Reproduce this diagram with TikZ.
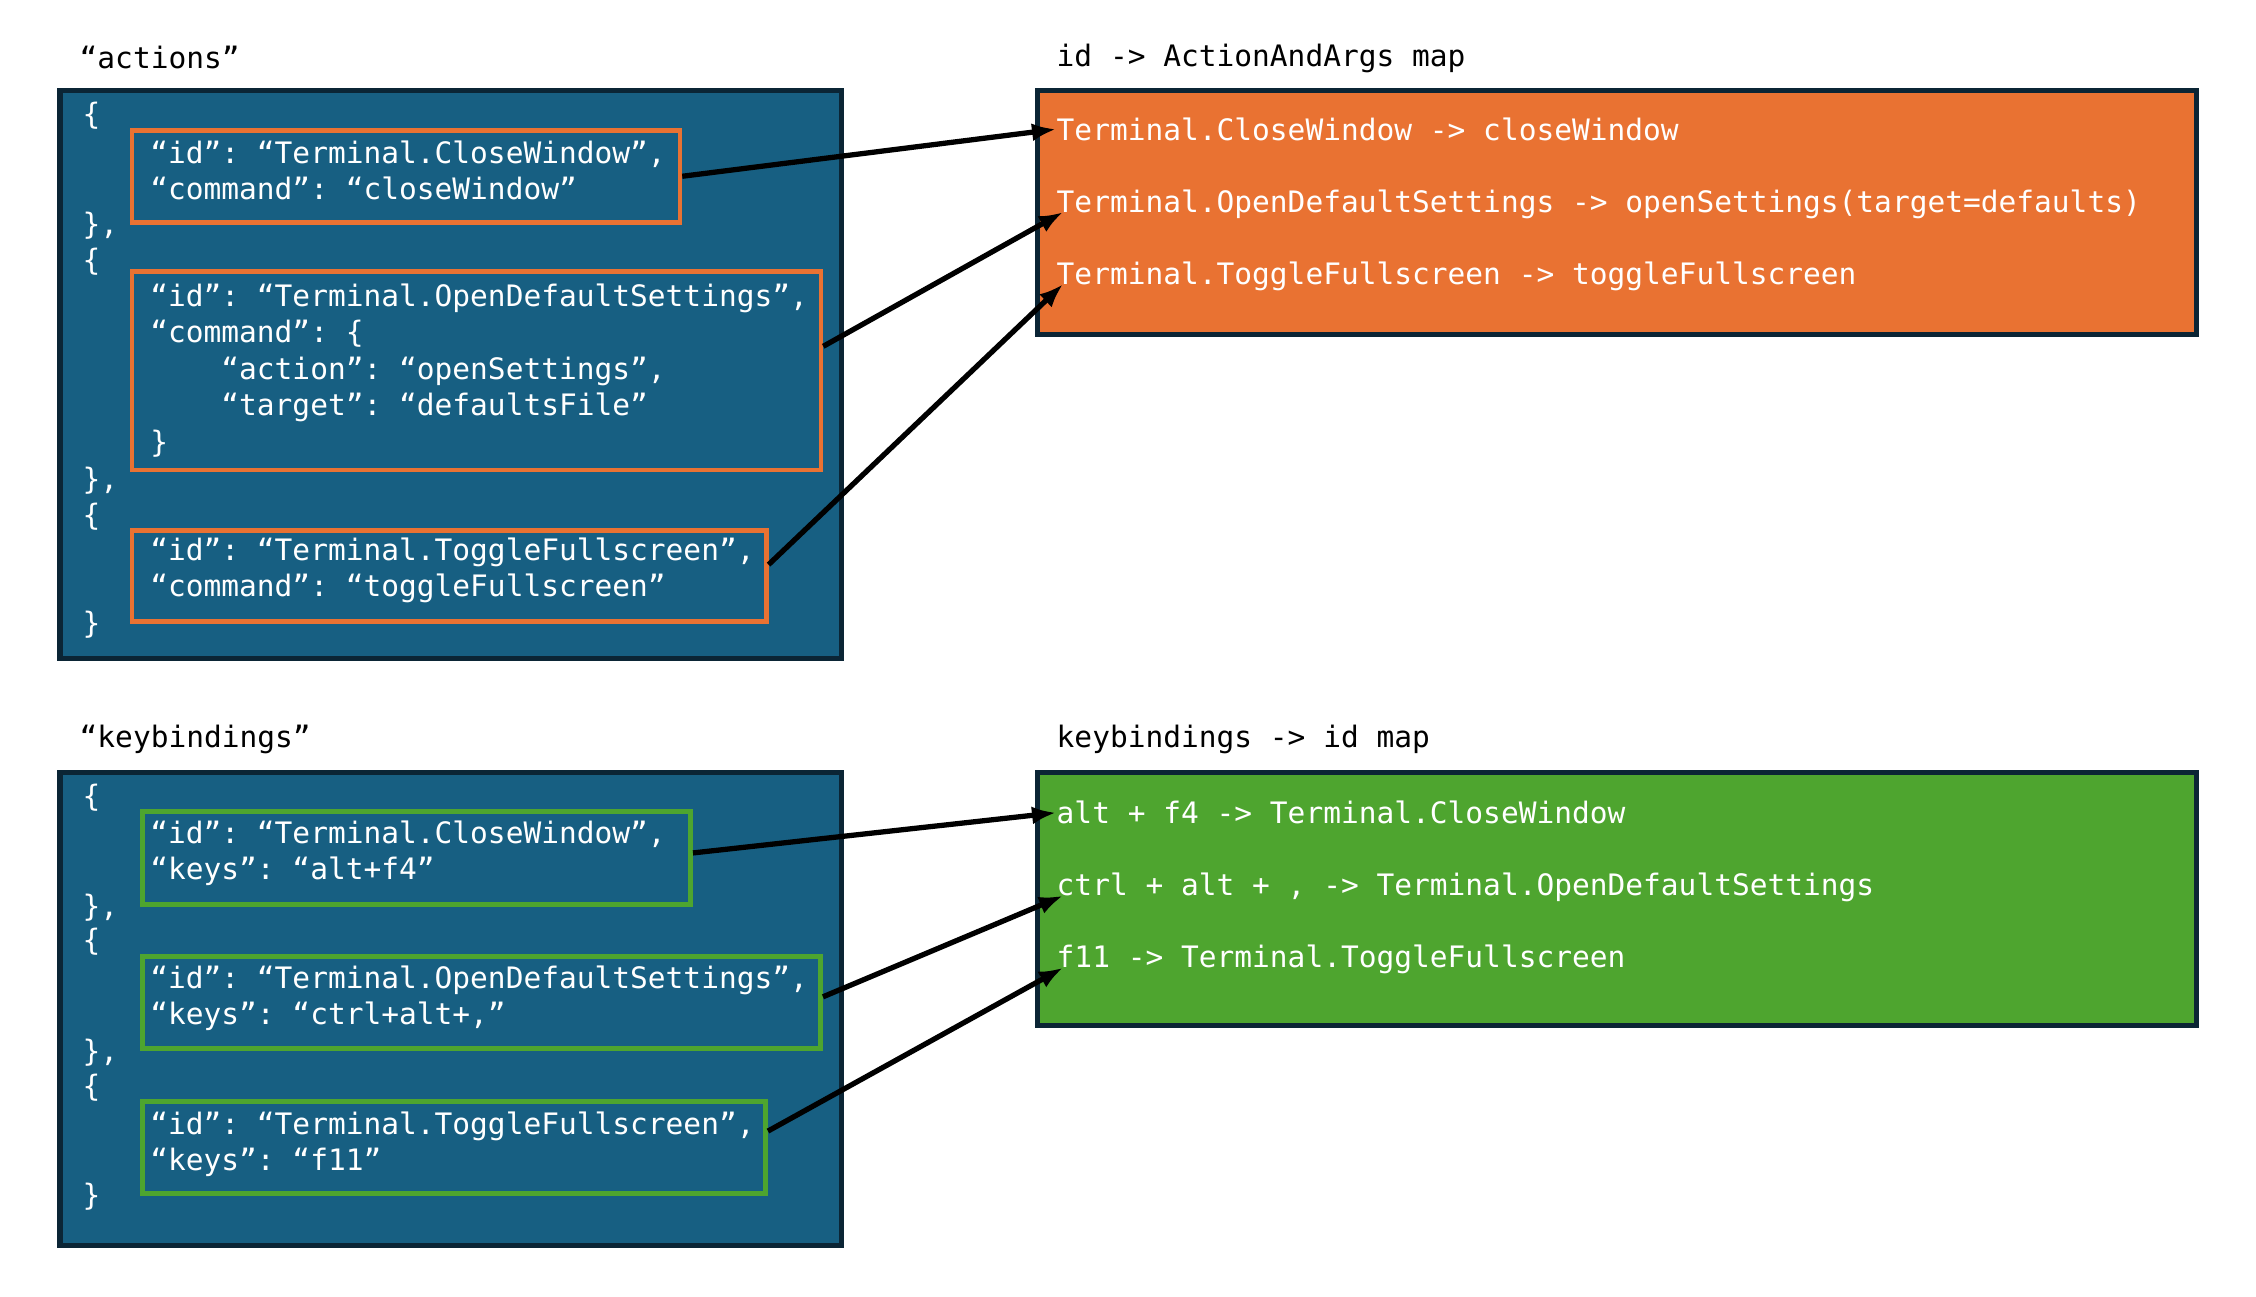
\documentclass[tikz,border=0pt]{standalone}
\usepackage{fontspec}
\setmonofont{DejaVu Sans Mono}
\usepackage{xcolor}
\usepackage{tikz}
\usetikzlibrary{arrows.meta}

\definecolor{panelblue}{HTML}{175F82}
\definecolor{panelnavy}{HTML}{0B2535}
\definecolor{maporange}{HTML}{E97232}
\definecolor{mapgreen}{HTML}{4EA52F}

\newcommand{\codefont}{\ttfamily\fontsize{8.4pt}{10.36pt}\selectfont}

\begin{document}
\begin{tikzpicture}[
    panel/.style={draw=panelnavy, line width=1.5pt, fill=#1, anchor=north west, inner sep=0pt},
    entry/.style={draw=#1, line width=1.3pt, anchor=north west, inner sep=0pt},
    code/.style={anchor=west, inner sep=0pt, align=left, text=white, font=\codefont},
    maprow/.style={anchor=base west, inner sep=0pt, text=white, font=\codefont},
    caption/.style={anchor=west, inner sep=0pt, font=\codefont},
    arr/.style={-{Latex[length=2.4mm,width=1.8mm]}, line width=1.5pt}
]
    \useasboundingbox (0,0) rectangle (22.56,-12.97);

    % actions json
    \node[caption] (actlbl) at (0.79,-0.58) {“actions”};
    \node[panel=panelblue, minimum width=7.815cm, minimum height=5.68cm] (actions) at (0.575,-0.88) {};
    \foreach \y/\t [count=\i] in {1.16/\{, 2.26/{\},}, 2.62/\{, 4.805/{\},}, 5.165/\{, 6.245/\}}
        \node[code] (actbr\i) at (0.82,-\y) {\t};

    \node[entry=maporange, minimum width=5.482cm, minimum height=0.92cm] (ob1) at (1.295,-1.28) {};
    \node[code] (ob1txt) at (1.496,-1.707) {“id”: “Terminal.CloseWindow”,\\“command”: “closeWindow”};

    \node[entry=maporange, minimum width=6.892cm, minimum height=1.986cm] (ob2) at (1.295,-2.69) {};
    \node[code] (ob2txt) at (1.496,-3.704) {“id”: “Terminal.OpenDefaultSettings”,\\“command”: \{\\\phantom{xxxx}“action”: “openSettings”,\\\phantom{xxxx}“target”: “defaultsFile”\\\}};

    \node[entry=maporange, minimum width=6.345cm, minimum height=0.91cm] (ob3) at (1.295,-5.28) {};
    \node[code] (ob3txt) at (1.496,-5.705) {“id”: “Terminal.ToggleFullscreen”,\\“command”: “toggleFullscreen”};

    % id -> ActionAndArgs
    \node[caption] (amaplbl) at (10.56,-0.58) {id -> ActionAndArgs map};
    \node[panel=maporange, minimum width=11.595cm, minimum height=2.44cm] (amap) at (10.345,-0.88) {};
    \node[maprow] (am1) at (10.56,-1.403) {Terminal.CloseWindow -> closeWindow};
    \node[maprow] (am2) at (10.56,-2.122) {Terminal.OpenDefaultSettings -> openSettings(target=defaults)};
    \node[maprow] (am3) at (10.56,-2.842) {Terminal.ToggleFullscreen -> toggleFullscreen};

    \draw[arr] (ob1.east) -- (am1.west);
    \draw[arr] (ob2.4.5) -- ([xshift=0.7mm]am2.base west);
    \draw[arr] (ob3.2.8) -- ([xshift=0.7mm]am3.base west);

    % keybindings json
    \node[caption] (keylbl) at (0.79,-7.395) {“keybindings”};
    \node[panel=panelblue, minimum width=7.815cm, minimum height=4.73cm] (keys) at (0.575,-7.70) {};
    \foreach \y/\t [count=\i] in {7.98/\{, 9.08/{\},}, 9.42/\{, 10.525/{\},}, 10.88/\{, 11.97/\}}
        \node[code] (keybr\i) at (0.82,-\y) {\t};

    \node[entry=mapgreen, minimum width=5.48cm, minimum height=0.93cm] (gb1) at (1.404,-8.09) {};
    \node[code] (gb1txt) at (1.496,-8.53) {“id”: “Terminal.CloseWindow”,\\“keys”: “alt+f4”};

    \node[entry=mapgreen, minimum width=6.78cm, minimum height=0.92cm] (gb2) at (1.404,-9.545) {};
    \node[code] (gb2txt) at (1.496,-9.985) {“id”: “Terminal.OpenDefaultSettings”,\\“keys”: “ctrl+alt+,”};

    \node[entry=mapgreen, minimum width=6.23cm, minimum height=0.925cm] (gb3) at (1.404,-10.99) {};
    \node[code] (gb3txt) at (1.496,-11.44) {“id”: “Terminal.ToggleFullscreen”,\\“keys”: “f11”};

    % keybindings -> id
    \node[caption] (gmaplbl) at (10.56,-7.395) {keybindings -> id map};
    \node[panel=mapgreen, minimum width=11.595cm, minimum height=2.53cm] (gmap) at (10.345,-7.70) {};
    \node[maprow] (gm1) at (10.56,-8.238) {alt + f4 -> Terminal.CloseWindow};
    \node[maprow] (gm2) at (10.56,-8.958) {ctrl + alt + , -> Terminal.OpenDefaultSettings};
    \node[maprow] (gm3) at (10.56,-9.678) {f11 -> Terminal.ToggleFullscreen};

    \draw[arr] (gb1.1.8) -- (gm1.west);
    \draw[arr] (gb2.1.9) -- ([xshift=0.7mm]gm2.base west);
    \draw[arr] (gb3.3.4) -- ([xshift=0.7mm]gm3.base west);
\end{tikzpicture}
\end{document}
